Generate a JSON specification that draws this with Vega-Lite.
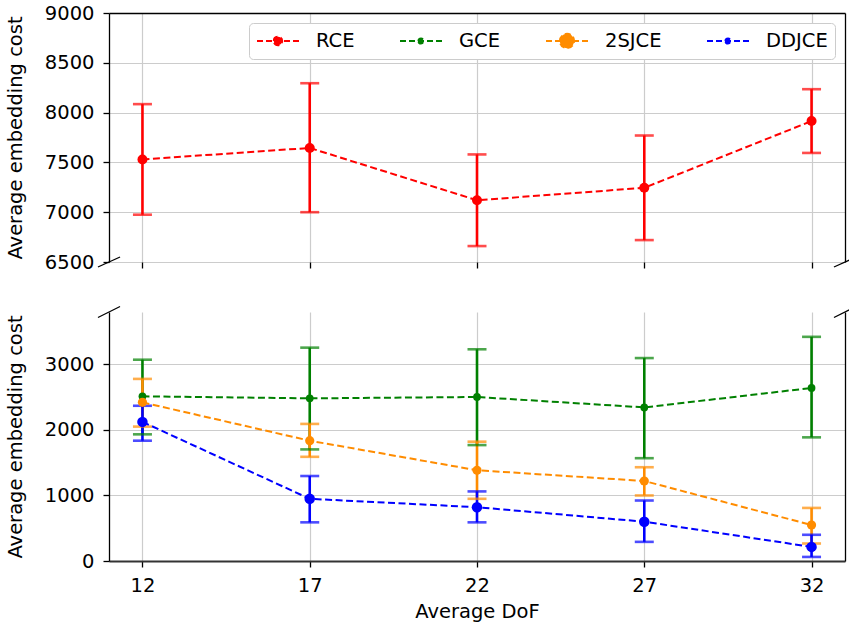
{
  "$schema": "https://vega.github.io/schema/vega-lite/v6.json",
  "background": "white",
  "padding": {"left": 5, "top": 3, "right": 5, "bottom": 5},
  "bounds": "flush",
  "spacing": 50,
  "config": {
    "font": "DejaVu Sans",
    "view": {"stroke": null},
    "axis": {
      "labelFont": "DejaVu Sans", "titleFont": "DejaVu Sans",
      "labelFontSize": 19.5, "titleFontSize": 19.5, "titleFontWeight": "normal",
      "labelColor": "#000000", "titleColor": "#000000",
      "domainColor": "#000000", "tickColor": "#000000", "domainWidth": 1.3, "tickWidth": 1.3,
      "gridColor": "#cccccc", "gridWidth": 1.2, "tickSize": 6, "labelPadding": 9,
      "labelFlush": false, "labelOverlap": false, "format": "d"
    },
    "axisY": {"titlePadding": 19},
    "axisX": {"titlePadding": 8}
  },
  "datasets": {
    "cost": [
      {"dof": 12, "method": "RCE", "mean": 7530, "lo": 6975, "hi": 8085},
      {"dof": 17, "method": "RCE", "mean": 7645, "lo": 7000, "hi": 8295},
      {"dof": 22, "method": "RCE", "mean": 7120, "lo": 6660, "hi": 7580},
      {"dof": 27, "method": "RCE", "mean": 7245, "lo": 6720, "hi": 7770},
      {"dof": 32, "method": "RCE", "mean": 7915, "lo": 7595, "hi": 8235},
      {"dof": 12, "method": "GCE", "mean": 2513, "lo": 1933, "hi": 3072},
      {"dof": 17, "method": "GCE", "mean": 2482, "lo": 1703, "hi": 3256},
      {"dof": 22, "method": "GCE", "mean": 2503, "lo": 1769, "hi": 3231},
      {"dof": 27, "method": "GCE", "mean": 2344, "lo": 1569, "hi": 3097},
      {"dof": 32, "method": "GCE", "mean": 2641, "lo": 1887, "hi": 3421},
      {"dof": 12, "method": "2SJCE", "mean": 2421, "lo": 2051, "hi": 2779},
      {"dof": 17, "method": "2SJCE", "mean": 1836, "lo": 1590, "hi": 2092},
      {"dof": 22, "method": "2SJCE", "mean": 1385, "lo": 949, "hi": 1821},
      {"dof": 27, "method": "2SJCE", "mean": 1221, "lo": 1000, "hi": 1431},
      {"dof": 32, "method": "2SJCE", "mean": 549, "lo": 267, "hi": 810},
      {"dof": 12, "method": "DDJCE", "mean": 2123, "lo": 1836, "hi": 2369},
      {"dof": 17, "method": "DDJCE", "mean": 949, "lo": 590, "hi": 1297},
      {"dof": 22, "method": "DDJCE", "mean": 821, "lo": 590, "hi": 1062},
      {"dof": 27, "method": "DDJCE", "mean": 600, "lo": 292, "hi": 923},
      {"dof": 32, "method": "DDJCE", "mean": 215, "lo": 62, "hi": 400}
    ]
  },
  "resolve": {"scale": {"color": "shared"}, "legend": {"color": "independent"}},
  "vconcat": [
    {
      "width": 736,
      "height": 249,
      "data": {"name": "cost"},
      "transform": [{"filter": "datum.method === 'RCE'"}],
      "encoding": {
        "color": {
          "field": "method", "type": "nominal",
          "scale": {"domain": ["RCE", "GCE", "2SJCE", "DDJCE"], "range": ["#ff0000", "#008000", "#ff8c00", "#0000ff"]},
          "legend": {
            "title": null, "orient": "top-right", "offset": 10, "direction": "horizontal", "columns": 4,
            "symbolSize": 1764, "clipHeight": 22, "labelOffset": 16, "columnPadding": 44,
            "labelFont": "DejaVu Sans", "labelFontSize": 19.5, "labelColor": "#000000",
            "padding": 7, "cornerRadius": 4, "strokeColor": "#cccccc", "fillColor": "#ffffff",
            "encode": {
              "symbols": {
                "update": {
                  "shape": {"signal": "datum.value === '2SJCE' ? 'M-1,0H1M-0.34,0A0.34,0.34,0,1,1,0.34,0A0.34,0.34,0,1,1,-0.34,0Z' : datum.value === 'RCE' ? 'M-1,0H1M-0.2,0A0.2,0.2,0,1,1,0.2,0A0.2,0.2,0,1,1,-0.2,0Z' : 'M-1,0H1M-0.12,0A0.12,0.12,0,1,1,0.12,0A0.12,0.12,0,1,1,-0.12,0Z'"},
                  "fill": {"signal": "datum.value === 'RCE' ? '#ff0000' : datum.value === 'GCE' ? '#008000' : datum.value === '2SJCE' ? '#ff8c00' : '#0000ff'"},
                  "stroke": {"signal": "datum.value === 'RCE' ? '#ff0000' : datum.value === 'GCE' ? '#008000' : datum.value === '2SJCE' ? '#ff8c00' : '#0000ff'"},
                  "strokeDash": {"value": [6, 3]},
                  "strokeWidth": {"value": 2},
                  "opacity": {"value": 1}
                }
              }
            }
          }
        }
      },
      "layer": [
        {
          "mark": {"type": "rule", "strokeWidth": 2.6},
          "encoding": {
            "x": {"field": "dof", "type": "quantitative", "scale": {"domain": [11, 33], "nice": false, "zero": false}, "axis": null},
            "y": {"field": "lo", "type": "quantitative", "scale": {"domain": [6500, 9000], "nice": false, "zero": false}, "axis": null},
            "y2": {"field": "hi"}
          }
        },
        {
          "mark": {"type": "tick", "orient": "horizontal", "size": 19, "thickness": 2.6},
          "encoding": {
            "x": {"field": "dof", "type": "quantitative", "axis": null},
            "y": {"field": "lo", "type": "quantitative", "axis": null}
          }
        },
        {
          "mark": {"type": "tick", "orient": "horizontal", "size": 19, "thickness": 2.6},
          "encoding": {
            "x": {"field": "dof", "type": "quantitative", "axis": null},
            "y": {"field": "hi", "type": "quantitative", "axis": null}
          }
        },
        {
          "mark": {"type": "line", "strokeDash": [7, 3.5], "strokeWidth": 2},
          "encoding": {
            "x": {"field": "dof", "type": "quantitative", "axis": {"orient": "bottom", "labels": false, "domain": false, "ticks": true, "grid": true, "title": null, "values": [12, 17, 22, 27, 32]}},
            "y": {"field": "mean", "type": "quantitative", "axis": {"orient": "left", "title": "Average embedding cost", "values": [6500, 7000, 7500, 8000, 8500, 9000], "grid": true}}
          }
        },
        {
          "mark": {"type": "point", "filled": true, "shape": "circle", "size": 100, "opacity": 1},
          "encoding": {
            "x": {"field": "dof", "type": "quantitative", "axis": {"orient": "top", "labels": false, "ticks": false, "domain": true, "grid": false, "title": null}},
            "y": {"field": "mean", "type": "quantitative", "axis": {"orient": "right", "labels": false, "ticks": false, "domain": true, "grid": false, "title": null}}
          }
        },
        {
          "data": {"values": [{}]},
          "mark": {"type": "rule", "strokeWidth": 1.3},
          "encoding": {
            "x": {"datum": 10.67, "type": "quantitative", "axis": null},
            "x2": {"datum": 11.33},
            "y": {"datum": 6450, "type": "quantitative", "axis": null},
            "y2": {"datum": 6550},
            "color": {"value": "#000000"}
          }
        },
        {
          "data": {"values": [{}]},
          "mark": {"type": "rule", "strokeWidth": 1.3},
          "encoding": {
            "x": {"datum": 32.67, "type": "quantitative", "axis": null},
            "x2": {"datum": 33.33},
            "y": {"datum": 6450, "type": "quantitative", "axis": null},
            "y2": {"datum": 6550},
            "color": {"value": "#000000"}
          }
        }
      ],
      "resolve": {"axis": {"x": "independent", "y": "independent"}}
    },
    {
      "width": 736,
      "height": 249,
      "data": {"name": "cost"},
      "transform": [{"filter": "datum.method !== 'RCE'"}],
      "encoding": {
        "color": {
          "field": "method", "type": "nominal",
          "scale": {"domain": ["RCE", "GCE", "2SJCE", "DDJCE"], "range": ["#ff0000", "#008000", "#ff8c00", "#0000ff"]},
          "legend": null
        }
      },
      "layer": [
        {
          "mark": {"type": "rule", "strokeWidth": 2.6},
          "encoding": {
            "x": {"field": "dof", "type": "quantitative", "scale": {"domain": [11, 33], "nice": false, "zero": false}, "axis": null},
            "y": {"field": "lo", "type": "quantitative", "scale": {"domain": [0, 3800], "nice": false, "zero": false}, "axis": null},
            "y2": {"field": "hi"}
          }
        },
        {
          "mark": {"type": "tick", "orient": "horizontal", "size": 19, "thickness": 2.6},
          "encoding": {
            "x": {"field": "dof", "type": "quantitative", "axis": null},
            "y": {"field": "lo", "type": "quantitative", "axis": null}
          }
        },
        {
          "mark": {"type": "tick", "orient": "horizontal", "size": 19, "thickness": 2.6},
          "encoding": {
            "x": {"field": "dof", "type": "quantitative", "axis": null},
            "y": {"field": "hi", "type": "quantitative", "axis": null}
          }
        },
        {
          "mark": {"type": "line", "strokeDash": [7, 3.5], "strokeWidth": 2},
          "encoding": {
            "x": {"field": "dof", "type": "quantitative", "axis": {"orient": "bottom", "title": "Average DoF", "values": [12, 17, 22, 27, 32], "grid": true, "domain": true, "domainWidth": 2, "domainColor": "#333333"}},
            "y": {"field": "mean", "type": "quantitative", "axis": {"orient": "left", "title": "Average embedding cost", "values": [0, 1000, 2000, 3000], "grid": true}}
          }
        },
        {
          "mark": {"type": "point", "filled": true, "shape": "circle", "size": 100, "opacity": 1},
          "encoding": {
            "x": {"field": "dof", "type": "quantitative", "axis": null},
            "y": {"field": "mean", "type": "quantitative", "axis": {"orient": "right", "labels": false, "ticks": false, "domain": true, "grid": false, "title": null}},
            "size": {"field": "method", "type": "nominal", "scale": {"domain": ["GCE", "2SJCE", "DDJCE"], "range": [60, 110, 100]}, "legend": null}
          }
        },
        {
          "data": {"values": [{}]},
          "mark": {"type": "rule", "strokeWidth": 1.3},
          "encoding": {
            "x": {"datum": 10.67, "type": "quantitative", "axis": null},
            "x2": {"datum": 11.33},
            "y": {"datum": 3716, "type": "quantitative", "axis": null},
            "y2": {"datum": 3884},
            "color": {"value": "#000000"}
          }
        },
        {
          "data": {"values": [{}]},
          "mark": {"type": "rule", "strokeWidth": 1.3},
          "encoding": {
            "x": {"datum": 32.67, "type": "quantitative", "axis": null},
            "x2": {"datum": 33.33},
            "y": {"datum": 3716, "type": "quantitative", "axis": null},
            "y2": {"datum": 3884},
            "color": {"value": "#000000"}
          }
        }
      ],
      "resolve": {"axis": {"x": "independent", "y": "independent"}}
    }
  ]
}
